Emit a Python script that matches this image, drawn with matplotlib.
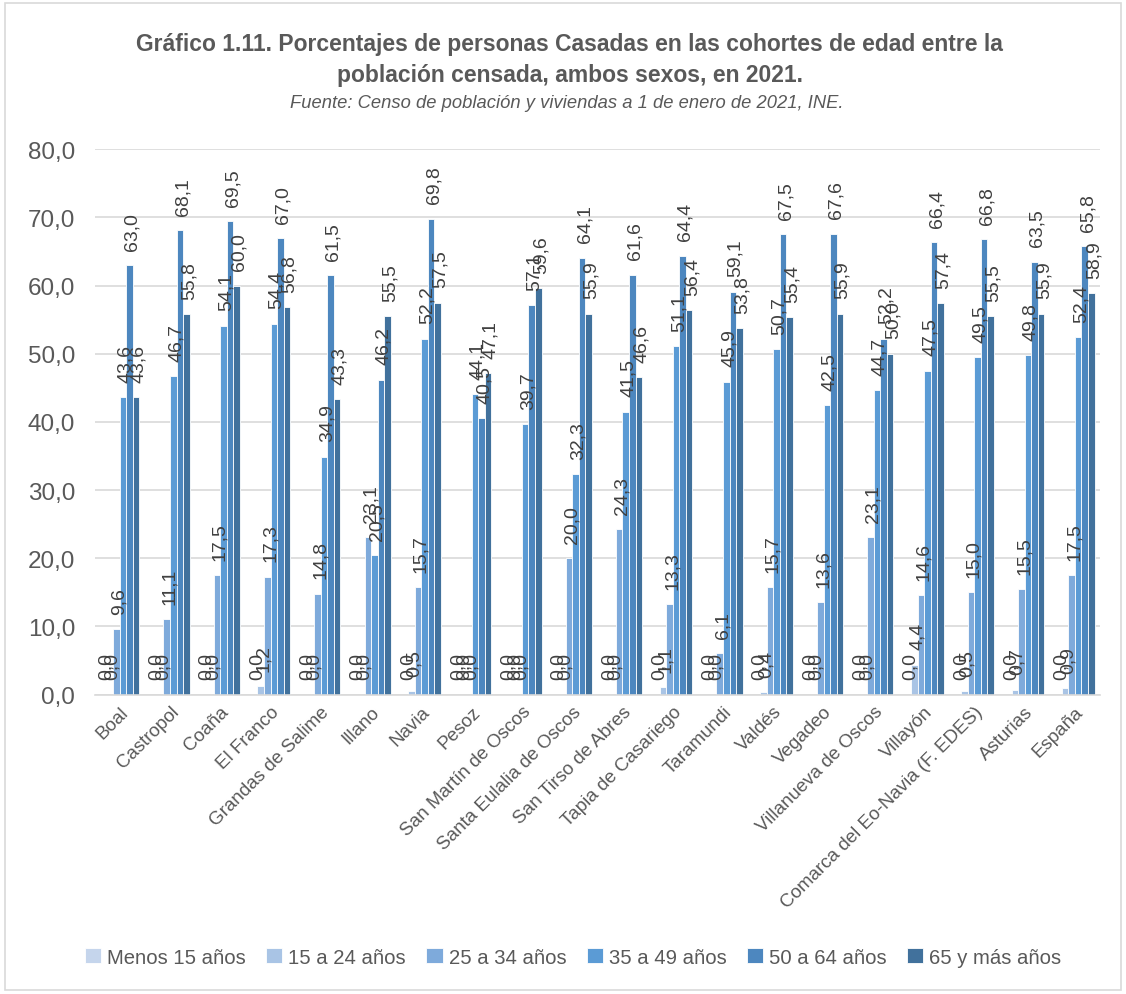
import numpy as np
import matplotlib.pyplot as plt

plt.rcParams['font.family'] = ['Liberation Sans', 'DejaVu Sans']

concejos = ['Boal', 'Castropol', 'Coaña', 'El Franco', 'Grandas de Salime', 'Illano',
            'Navia', 'Pesoz', 'San Martín de Oscos', 'Santa Eulalia de Oscos',
            'San Tirso de Abres', 'Tapia de Casariego', 'Taramundi', 'Valdés',
            'Vegadeo', 'Villanueva de Oscos', 'Villayón',
            'Comarca del Eo-Navia (F. EDES)', 'Asturias', 'España']

cohortes = ['Menos 15 años', '15 a 24 años', '25 a 34 años', '35 a 49 años',
            '50 a 64 años', '65 y más años']

menos15 = [0.0] * 20
de15a24 = [0.0, 0.0, 0.0, 1.2, 0.0, 0.0, 0.5, 0.0, 0.0, 0.0,
           0.0, 1.1, 0.0, 0.4, 0.0, 0.0, 4.4, 0.5, 0.7, 0.9]
de25a34 = [9.6, 11.1, 17.5, 17.3, 14.8, 23.1, 15.7, 0.0, 0.0, 20.0,
           24.3, 13.3, 6.1, 15.7, 13.6, 23.1, 14.6, 15.0, 15.5, 17.5]
de35a49 = [43.6, 46.7, 54.1, 54.4, 34.9, 20.5, 52.2, 44.1, 39.7, 32.3,
           41.5, 51.1, 45.9, 50.7, 42.5, 44.7, 47.5, 49.5, 49.8, 52.4]
de50a64 = [63.0, 68.1, 69.5, 67.0, 61.5, 46.2, 69.8, 40.5, 57.1, 64.1,
           61.6, 64.4, 59.1, 67.5, 67.6, 52.2, 66.4, 66.8, 63.5, 65.8]
mas65 = [43.6, 55.8, 60.0, 56.8, 43.3, 55.5, 57.5, 47.1, 59.6, 55.9,
         46.6, 56.4, 53.8, 55.4, 55.9, 50.0, 57.4, 55.5, 55.9, 58.9]

series = [menos15, de15a24, de25a34, de35a49, de50a64, mas65]
colores = ['#c5d5ec', '#a9c4e5', '#7eaadb', '#5b9bd5', '#4d87bf', '#41719c']

fig = plt.figure(figsize=(11.26, 9.95), dpi=100)
ax = fig.add_axes([0.084, 0.301, 0.893, 0.548])

n = len(concejos)
x = np.arange(n)
w = 0.13
for i, (vals, col, lab) in enumerate(zip(series, colores, cohortes)):
    pos = x + (i - 2.5) * w
    ax.bar(pos, vals, w, color=col, edgecolor='white', linewidth=0.6, label=lab, zorder=2)
    # etiquetas de valor giradas sobre cada barra
    for p, v in zip(pos, vals):
        ax.annotate(f'{v:.1f}'.replace('.', ','), (p, v), xytext=(2, 11),
                    textcoords='offset points', rotation=90, ha='center', va='bottom',
                    fontsize=14, color='#404040', zorder=3)

ax.set_ylim(0, 80)
ax.set_xlim(-0.5, n - 0.5)
ticks = np.arange(0, 81, 10)
ax.set_yticks(ticks)
ax.set_yticklabels([f'{t:.1f}'.replace('.', ',') for t in ticks],
                   fontsize=17.5, color='#595959')
ax.set_xticks(x)
ax.set_xticklabels(concejos, rotation=45, ha='right', rotation_mode='anchor',
                   fontsize=13.5, color='#595959')
ax.tick_params(axis='y', length=0, pad=14)
ax.tick_params(axis='x', length=0, pad=6)
ax.grid(axis='y', color='#d9d9d9', linewidth=1.2, zorder=0)
for s in ['top', 'right', 'left']:
    ax.spines[s].set_visible(False)
ax.spines['bottom'].set_color('#d9d9d9')
ax.spines['bottom'].set_linewidth(1.2)

fig.text(0.506, 0.955, 'Gráfico 1.11. Porcentajes de personas Casadas en las cohortes de edad entre la',
         ha='center', va='center', fontsize=16.5, fontweight='bold', color='#595959')
fig.text(0.506, 0.924, 'población censada, ambos sexos, en 2021.',
         ha='center', va='center', fontsize=16.5, fontweight='bold', color='#595959')
fig.text(0.503, 0.896, 'Fuente: Censo de población y viviendas a 1 de enero de 2021, INE.',
         ha='center', va='center', fontsize=13.2, style='italic', color='#595959')

fig.legend(loc='center', bbox_to_anchor=(0.509, 0.037), ncol=6, frameon=False,
           fontsize=14.6, handlelength=0.8, handleheight=0.8, handletextpad=0.3,
           columnspacing=1.0, labelcolor='#595959')

fig.patches.append(plt.Rectangle((0.004, 0.004), 0.992, 0.992, transform=fig.transFigure,
                                 fill=False, edgecolor='#d9d9d9', linewidth=1.2))

fig.savefig('out.png', dpi=100)
